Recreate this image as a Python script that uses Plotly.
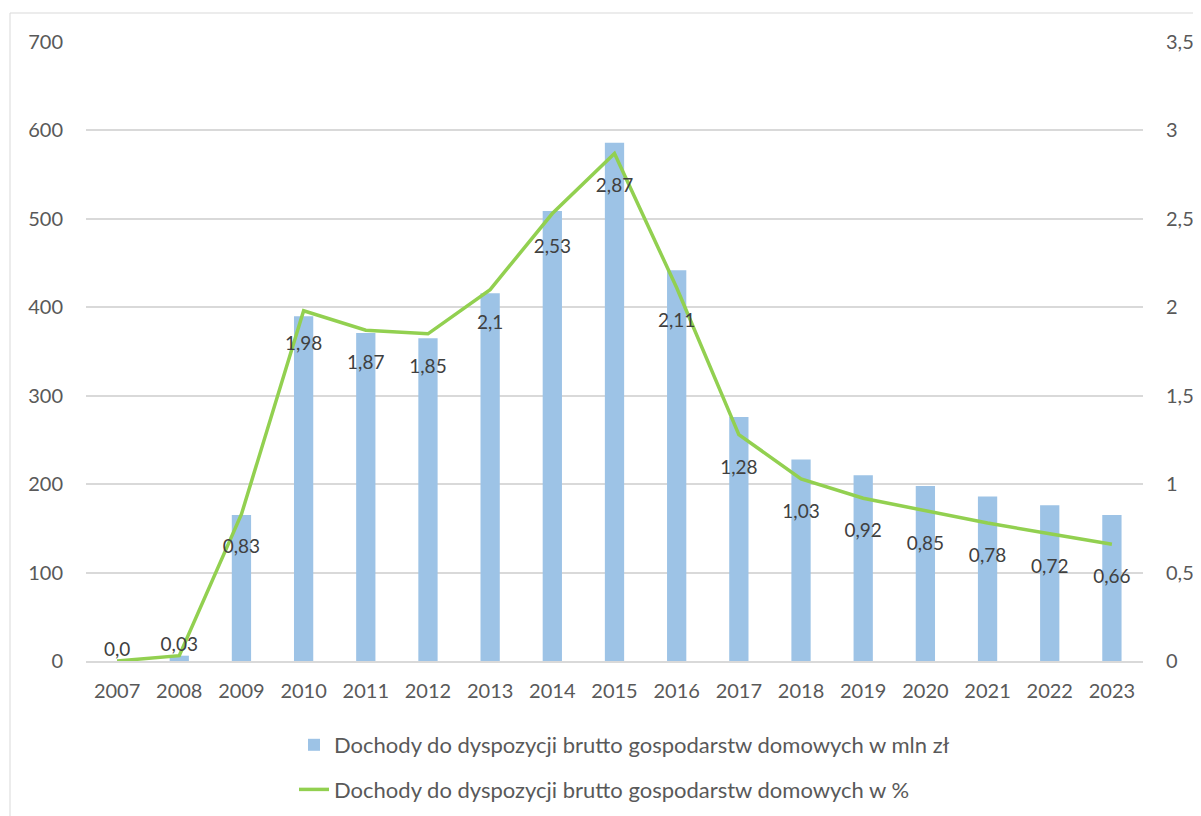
import plotly.graph_objects as go

years = ["2007", "2008", "2009", "2010", "2011", "2012", "2013", "2014", "2015",
         "2016", "2017", "2018", "2019", "2020", "2021", "2022", "2023"]
income_mln = [0, 6, 165, 390, 371, 365, 416, 509, 586, 442, 276, 228, 210, 198, 186, 176, 165]
income_pct = [0.0, 0.03, 0.83, 1.98, 1.87, 1.85, 2.1, 2.53, 2.87, 2.11, 1.28, 1.03, 0.92,
              0.85, 0.78, 0.72, 0.66]
pct_labels = [str(v).replace(".", ",") for v in income_pct]

# label placement style (Excel-like "below", first two moved above)
label_pos = ["top center", "top center"] + ["bottom center"] * 15
label_gap = [0, 0] + [38] * 15

name_bar = "Dochody do dyspozycji brutto gospodarstw domowych w mln zł"
name_line = "Dochody do dyspozycji brutto gospodarstw domowych w %"

# page is offset by the 8px body margin
OFF = 8
W, H = 1201, 816
ML, MR, MT, MB = 86 - OFF, 58 + OFF, 42 - OFF, 155 + OFF
pw, ph = W - ML - MR, H - MT - MB

FONT = "Lato"
fig = go.Figure()
fig.add_trace(go.Bar(x=years, y=income_mln, name=name_bar, marker_color="#9DC3E6",
                     marker_line_width=0, legendgroup="a"))
fig.add_trace(go.Scatter(x=years, y=income_pct, name=name_line, mode="lines",
                         line=dict(color="#92D050", width=3.5), yaxis="y2",
                         legendgroup="b"))
fig.add_trace(go.Scatter(x=years, y=income_pct, mode="markers+text", text=pct_labels,
                         textposition=label_pos, yaxis="y2", showlegend=False,
                         hoverinfo="skip",
                         marker=dict(size=label_gap, opacity=0, color="#92D050"),
                         textfont=dict(family=FONT, size=19, color="#404040")))

def px2x(p):
    return (p - OFF - ML) / pw

def px2y(p):
    return (H - MB - (p - OFF)) / ph

fig.add_shape(type="rect", xref="paper", yref="paper",
              x0=px2x(10), x1=px2x(1230), y0=px2y(840), y1=px2y(13),
              line=dict(color="#D9D9D9", width=1), fillcolor="rgba(0,0,0,0)", layer="below")

fig.update_layout(
    width=W, height=H,
    margin=dict(l=ML, r=MR, t=MT, b=MB, autoexpand=False),
    paper_bgcolor="white", plot_bgcolor="white",
    separators=", ",
    bargap=0.69,
    font=dict(family=FONT, size=20, color="#595959"),
    xaxis=dict(type="category", range=[-0.5, len(years) - 0.5], showgrid=False,
               showline=True, linecolor="#D9D9D9",
               linewidth=1.5, ticks="", tickfont=dict(size=20, color="#595959"),
               ticklabelstandoff=11, automargin=False),
    yaxis=dict(range=[0, 700], dtick=100, showgrid=True, gridcolor="#D9D9D9", gridwidth=1.5,
               zeroline=False, ticks="", tickfont=dict(size=20, color="#595959"),
               ticklabelstandoff=22, automargin=False),
    yaxis2=dict(range=[0, 3.5], dtick=0.5, overlaying="y", side="right", showgrid=False,
                zeroline=False, ticks="", tickfont=dict(size=20, color="#595959"),
                ticklabelstandoff=22, automargin=False),
    showlegend=True,
    legend=dict(orientation="v", x=px2x(294), xanchor="left", y=px2y(724), yanchor="top",
                traceorder="grouped", tracegroupgap=13, bgcolor="rgba(0,0,0,0)",
                font=dict(family=FONT, size=22, color="#595959")),
)

fig.write_html("out.html")
